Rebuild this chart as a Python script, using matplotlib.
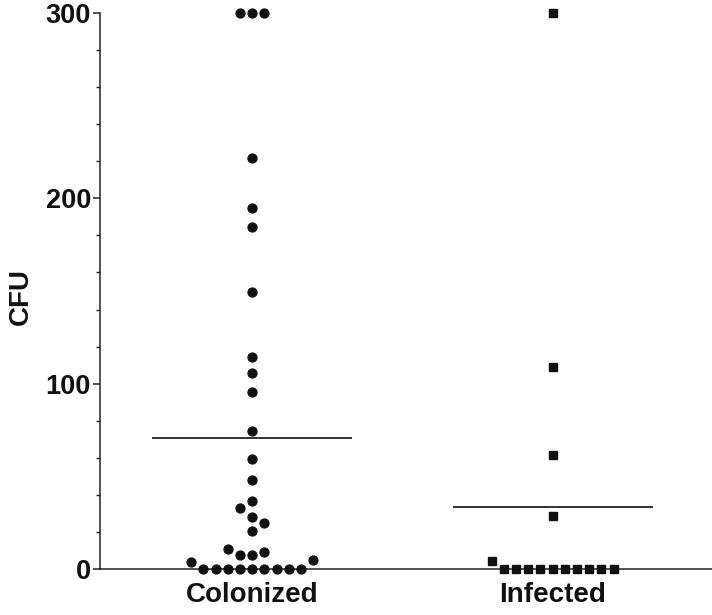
import numpy as np
import matplotlib
matplotlib.use("Agg")
import matplotlib.pyplot as plt
from matplotlib.ticker import MultipleLocator

plt.rcParams["font.family"] = ["Liberation Sans", "DejaVu Sans"]
plt.rcParams["font.weight"] = "bold"

categories = ["Colonized", "Infected"]
colonized_cfu = [300, 300, 300, 221.8, 194.6, 184.6, 149.7, 114.6, 105.6, 95.7,
                 74.6, 59.5, 47.8, 36.9, 32.7, 27.9, 24.6, 20.5, 10.6, 9.2,
                 7.6, 7.6, 4.9, 3.9, 0, 0, 0, 0, 0, 0, 0, 0, 0]
infected_cfu = [300, 109, 61.5, 28.8, 4.3, 0, 0, 0, 0, 0, 0, 0, 0, 0, 0]
y_ticks = [0, 100, 200, 300]

groups = [colonized_cfu, infected_cfu]
markers = ["o", "s"]
marker_sizes = [6.4, 6.0]

fig = plt.figure(figsize=(7.12, 6.15), dpi=100)
ax = fig.add_axes([100 / 712, 46 / 615, 612 / 712, 556 / 615])
ax.set_xlim(-0.507, 1.531)
ax.set_ylim(0, 300)

# pixels per data unit, used for the swarm layout
p0, p1 = ax.transData.transform([(0, 0), (1, 1)])
px_x = p1[0] - p0[0]
px_y = p1[1] - p0[1]

SPACING = 12.2   # px between neighbouring columns of points
MIN_DIST = 11.0  # px, points closer than this collide
side = [-1]      # alternating preferred side, shared across groups


def swarm_offsets(values):
    placed = []
    order = np.argsort(values, kind="stable")
    offsets = np.zeros(len(values))
    for idx in order:
        y = values[idx] * px_y
        cands = [0]
        for k in range(1, 40):
            cands += [side[0] * k, -side[0] * k]
        for s in cands:
            ok = all(np.hypot((s - s2) * SPACING, y - y2) >= MIN_DIST
                     for s2, y2 in placed)
            if ok:
                break
        placed.append((s, y))
        offsets[idx] = s * SPACING / px_x
        if s != 0:
            side[0] = -side[0]
    return offsets


for i, vals in enumerate(groups):
    vals = np.array(vals, dtype=float)
    offs = swarm_offsets(vals)
    ax.plot(i + offs, vals, linestyle="none", marker=markers[i],
            ms=marker_sizes[i], color="#111111", clip_on=False, zorder=3)
    ax.hlines(np.mean(vals), i - 0.333, i + 0.333, color="#222222",
              lw=1.3, zorder=2)

ax.set_xticks(range(len(categories)))
ax.set_xticklabels(categories)
ax.set_yticks(y_ticks)
ax.yaxis.set_minor_locator(MultipleLocator(20))

for s in ["top", "right"]:
    ax.spines[s].set_visible(False)
for s in ["left", "bottom"]:
    ax.spines[s].set_linewidth(1.1)
    ax.spines[s].set_color("#222222")

ax.tick_params(axis="y", which="major", length=5, width=1.1, pad=1.5,
               labelsize=19.5, colors="#222222", labelcolor="#111111")
ax.tick_params(axis="y", which="minor", length=3, width=1.0, colors="#222222")
ax.tick_params(axis="x", length=3, width=1.0, pad=6, labelsize=20,
               colors="#222222", labelcolor="#111111")

ax.set_ylabel("CFU", fontsize=20, fontweight="bold", va="center", color="#111111")
ax.yaxis.set_label_coords(-0.129, 0.49)

fig.savefig("out.png", dpi=100)
